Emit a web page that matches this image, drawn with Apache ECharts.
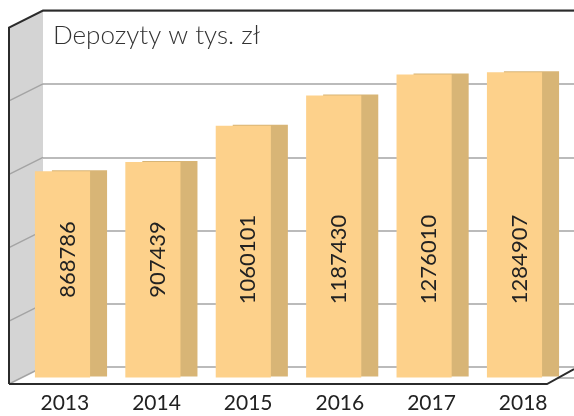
<!DOCTYPE html>
<html>
<head>
<meta charset="utf-8">
<script src="https://cdn.jsdelivr.net/npm/echarts@6/dist/echarts.min.js"></script>
<style>
html, body { margin: 0; padding: 0; background: #fff; }
#chart { width: 574px; height: 416px; }
</style>
</head>
<body>
<div id="chart"></div>
<script>
// dane
var years = ['2013', '2014', '2015', '2016', '2017', '2018'];
var deposits = [868786, 907439, 1060101, 1187430, 1276010, 1284907];
var wallLevels = 5; // linie siatki na tylnej ścianie

var chart = echarts.init(document.getElementById('chart'));

var option = {
	animation: false,
	title: {
		text: 'Depozyty w tys. zł',
		left: 53,
		top: 23,
		padding: 0,
		textStyle: { fontFamily: 'Lato', fontWeight: 300, fontSize: 26, color: '#333' }
	},
	grid: [
		{ left: 43, right: 0, top: 10.5, bottom: 38.5 },   // tylna ściana
		{ left: 17.3, right: 14.3, top: 10.5, bottom: 38.5 },   // słupki
		{ left: 19, right: 5, top: 10, bottom: 32 }   // podpisy lat
	],
	xAxis: [
		{ gridIndex: 0, type: 'value', show: false },
		{ gridIndex: 1, type: 'category', data: years, show: false },
		{
			gridIndex: 2, type: 'category', data: years,
			axisLine: { show: false }, axisTick: { show: false },
			axisLabel: { margin: 9, fontFamily: 'Lato', fontSize: 21, color: '#222' }
		}
	],
	yAxis: [
		{
			gridIndex: 0, type: 'value', min: 0, max: wallLevels, interval: 1,
			axisLine: { show: false }, axisTick: { show: false }, axisLabel: { show: false },
			splitLine: { show: true, lineStyle: { color: '#a4a4a4', width: 1.5 } }
		},
		{ gridIndex: 1, type: 'value', min: 0, max: 1545000, show: false, splitLine: { show: false } },
		{ gridIndex: 2, type: 'value', show: false, splitLine: { show: false } }
	],
	series: [{
		type: 'custom',
		xAxisIndex: 1,
		yAxisIndex: 1,
		z: 2,
		data: deposits.map(function (v, i) { return [i, v]; }),
		renderItem: function (params, api) {
			var top = api.coord([api.value(0), api.value(1)]);
			var base = api.coord([api.value(0), 0]);
			var w = api.size([1, 0])[0] * 0.61;
			var d = 17; // głębokość słupka
			var x = top[0] - w / 2;
			var h = base[1] - top[1];
			return {
				type: 'group',
				children: [
					{ type: 'rect', shape: { x: x + d, y: top[1] - 1, width: w, height: h }, style: { fill: '#d8b576' } },
					{ type: 'rect', shape: { x: x, y: top[1], width: w, height: h }, style: { fill: '#fdd18b' } },
					{
						type: 'text', x: top[0] + 5, y: base[1] - 118, rotation: Math.PI / 2,
						style: {
							text: String(api.value(1)), align: 'center', verticalAlign: 'middle',
							fontFamily: 'Lato', fontSize: 22, fill: '#222'
						}
					}
				]
			};
		}
	}]
};
chart.setOption(option);

// ściana boczna i podłoga liczone z osi ściany
var dx = 34, dy = 17;
var wallX = 43, frontX = wallX - dx;
var floorBack = 367, floorFront = floorBack + dy;
var yTop = chart.convertToPixel({ yAxisIndex: 0 }, wallLevels);
var els = [];
els.push({
	type: 'polygon', z: 1,
	shape: { points: [[frontX, yTop + dy], [wallX, yTop], [wallX, floorBack], [frontX, floorFront]] },
	style: { fill: '#d4d4d4' }
});
els.push({
	type: 'polygon', z: 1,
	shape: { points: [[frontX, floorFront], [wallX, floorBack], [574, floorBack], [574, 370], [547, floorFront]] },
	style: { fill: '#fff' }
});
for (var k = 1; k < wallLevels; k++) {
	var y = chart.convertToPixel({ yAxisIndex: 0 }, k);
	els.push({ type: 'line', z: 1, shape: { x1: frontX, y1: y + dy, x2: wallX, y2: y }, style: { stroke: '#a4a4a4', lineWidth: 1.5 } });
}
els.push({ type: 'line', z: 1, shape: { x1: wallX, y1: floorBack, x2: 574, y2: floorBack }, style: { stroke: '#a4a4a4', lineWidth: 1.5 } });
els.push({ type: 'line', z: 1, shape: { x1: frontX, y1: floorFront, x2: wallX, y2: floorBack }, style: { stroke: '#a4a4a4', lineWidth: 1.5 } });
els.push({ type: 'polyline', z: 5, shape: { points: [[frontX, floorFront], [frontX, yTop + dy], [wallX, yTop], [574, yTop]] }, style: { stroke: '#2b2b2b', lineWidth: 2, fill: null } });
els.push({ type: 'polyline', z: 5, shape: { points: [[frontX, floorFront], [547, floorFront], [574, 369]] }, style: { stroke: '#2b2b2b', lineWidth: 2, fill: null } });
chart.setOption({ graphic: { elements: els } });
</script>
</body>
</html>
